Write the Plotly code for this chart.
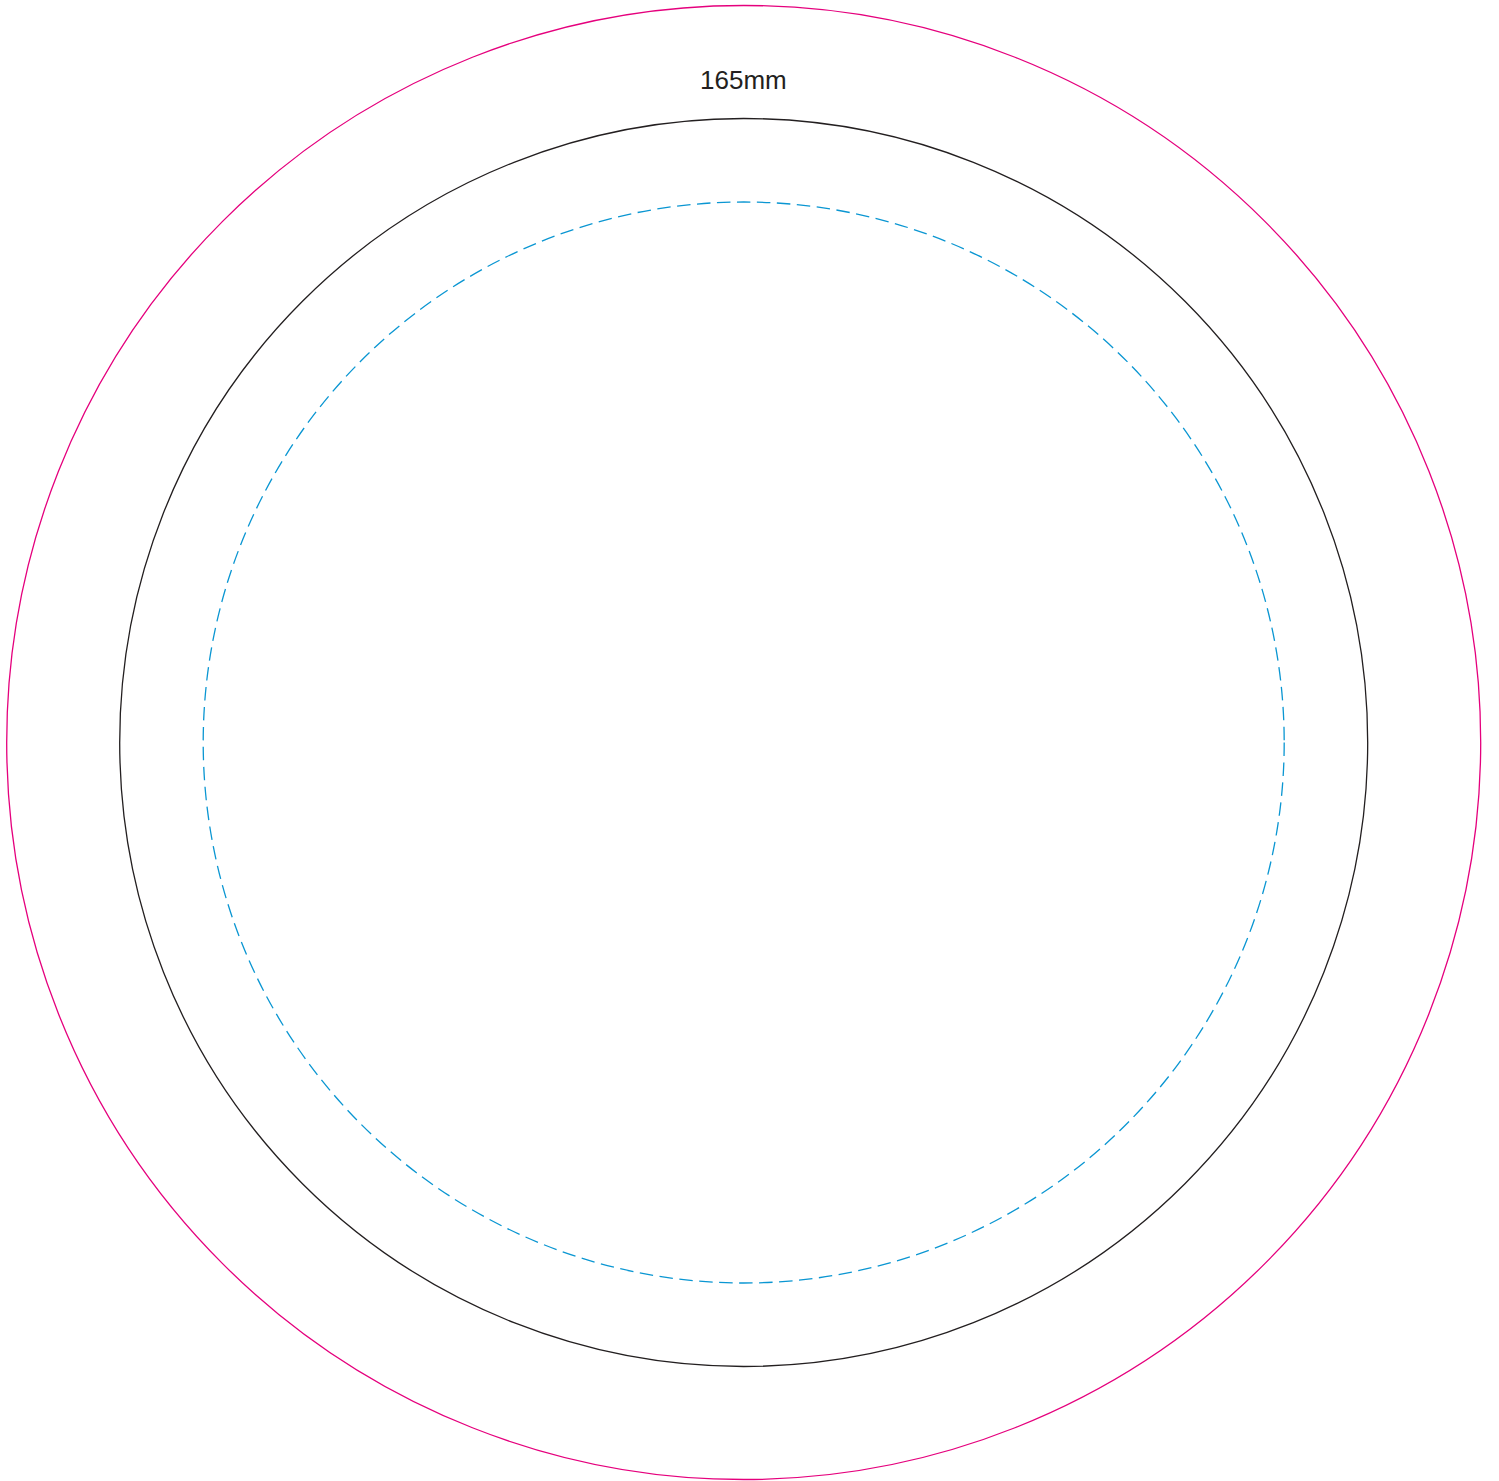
import plotly.graph_objects as go

# Ring data (pixel units of the 1499x1481 canvas)
ring_names = ["bleed", "trim", "safe"]
ring_radii = [737.0, 624.0, 540.5]
ring_colors = ["#e5007d", "#231f20", "#0a96d2"]
ring_dash = ["solid", "solid", "13.5px,6.5px"]
center_x = [743.7]
center_y = [742.5]
label_text = ["165mm"]

W, H = 1499, 1481

fig = go.Figure()
fig.add_trace(go.Scatter(x=[None], y=[None], mode="markers", showlegend=False, hoverinfo="skip"))

for name, r, c, d in zip(ring_names, ring_radii, ring_colors, ring_dash):
    fig.add_shape(
        type="circle", xref="x", yref="y",
        x0=center_x[0] - r, x1=center_x[0] + r,
        y0=center_y[0] - r, y1=center_y[0] + r,
        line=dict(color=c, width=1.3, dash=d),
        fillcolor="rgba(0,0,0,0)", name=name,
    )

fig.add_annotation(
    x=center_x[0], y=80, xref="x", yref="y",
    text=label_text[0], showarrow=False,
    font=dict(family="Liberation Sans, Arial, sans-serif", size=26, color="#231f20"),
    xanchor="center", yanchor="middle",
)

fig.update_xaxes(range=[0, W], visible=False, showgrid=False, zeroline=False)
fig.update_yaxes(range=[H, 0], visible=False, showgrid=False, zeroline=False)
fig.update_layout(
    width=W, height=H, margin=dict(l=0, r=0, t=0, b=0),
    paper_bgcolor="white", plot_bgcolor="white", showlegend=False,
)
fig.write_html(
    "out.html",
    config={"displayModeBar": False},
    post_script="document.body.style.margin='0';document.body.style.overflow='hidden';",
)
